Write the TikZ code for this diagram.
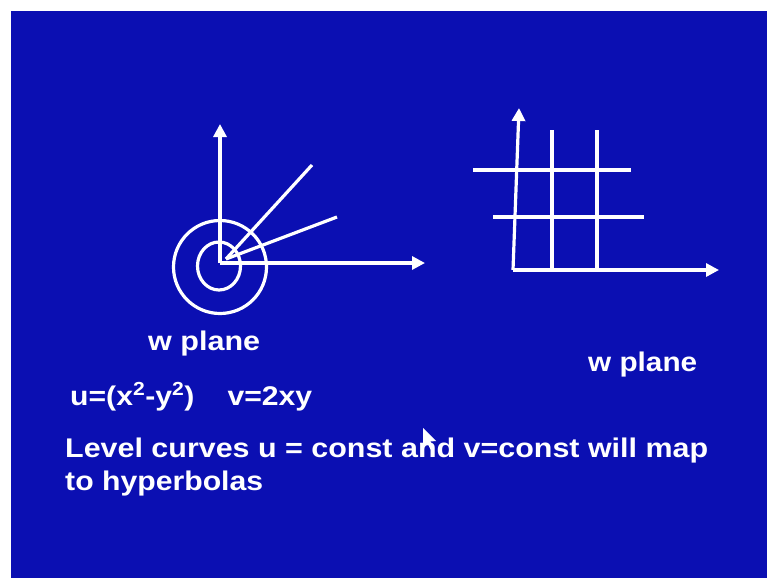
\documentclass[tikz,border=0pt]{standalone}
\usepackage{fontspec}
\setmainfont{Liberation Sans}
\usetikzlibrary{arrows.meta}
\definecolor{slideblue}{RGB}{11,15,178}
\begin{document}
\begin{tikzpicture}[x=1pt,y=-1pt,
  axis/.style={draw=white, line width=3.2pt, -{Triangle[length=13pt,width=13pt]}},
  gline/.style={draw=white, line width=3.2pt},
  lbl/.style={text=white, font=\bfseries\fontsize{27}{31}\selectfont, inner sep=0pt, anchor=base west}]
\useasboundingbox (0,0) rectangle (767,578);
\fill[white] (0,0) rectangle (767,578);
\fill[slideblue] (11,11) rectangle (767,578);

% ---- left diagram ----
\coordinate (O1) at (220,263);
\coordinate (Y1) at (220,124);
\coordinate (X1) at (425,263);
\coordinate (RS) at (226,259);
\coordinate (R1) at (312,165);
\coordinate (R2) at (337,217);
\draw[axis] (O1) -- (Y1);
\draw[axis] (O1) -- (X1);
\draw[gline] (RS) -- (R1);
\draw[gline] (RS) -- (R2);
\draw[gline] (220,267) circle[radius=46.5];
\draw[gline] (219,266) ellipse[x radius=21.5, y radius=24];

% ---- right diagram ----
\coordinate (O2) at (513,270);
\coordinate (Y2) at (519,108);
\coordinate (X2) at (719,270);
\coordinate (V1t) at (552,130);
\coordinate (V1b) at (552,270);
\coordinate (V2t) at (597,130);
\coordinate (V2b) at (597,270);
\coordinate (H1l) at (473,170);
\coordinate (H1r) at (631,170);
\coordinate (H2l) at (493,217);
\coordinate (H2r) at (644,217);
\draw[gline] (V1t) -- (V1b);
\draw[gline] (V2t) -- (V2b);
\draw[gline] (H1l) -- (H1r);
\draw[gline] (H2l) -- (H2r);
\draw[axis] (O2) -- (Y2);
\draw[axis] (O2) -- (X2);

% ---- texts ----
\node[lbl] (wl) at (148,350) {\resizebox{112pt}{\height}{w plane}};
\node[lbl] (wr) at (588,371) {\resizebox{109pt}{\height}{w plane}};
\node[lbl] (eq) at (70,405) {\resizebox{242pt}{\height}{u=(x\textsuperscript{2}-y\textsuperscript{2})\hspace{1.1em}v=2xy}};
\node[lbl] (l1) at (65,457) {\resizebox{643pt}{\height}{Level curves u = const and v=const will map}};
\node[lbl] (l2) at (65,490) {\resizebox{198pt}{\height}{to hyperbolas}};

% ---- mouse pointer ----
\fill[white] (423,428) -- (423,447) -- (427.5,443) -- (430.5,449.5) -- (433.5,448) -- (430.5,441.5) -- (436,441) -- cycle;
\end{tikzpicture}
\end{document}
